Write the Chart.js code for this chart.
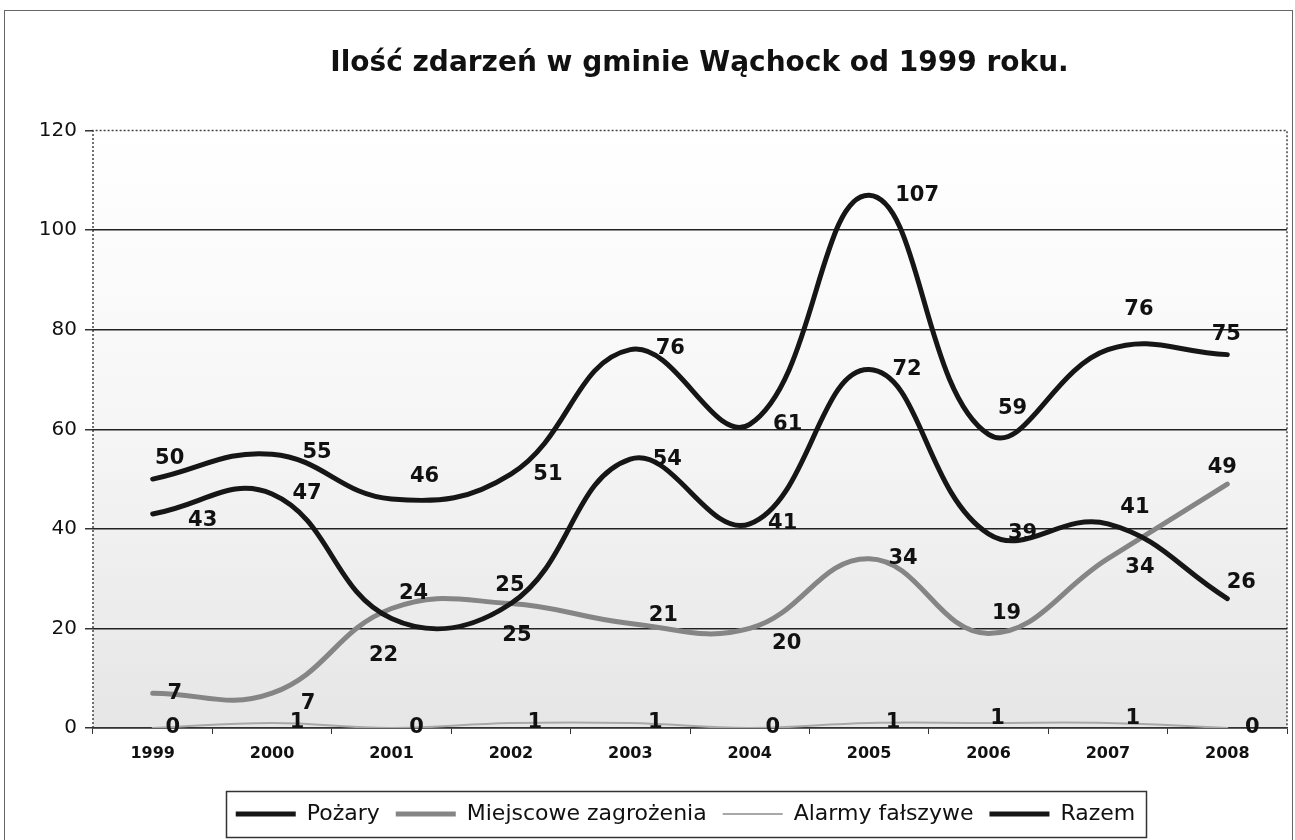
<!DOCTYPE html>
<html lang="pl">
<head>
<meta charset="utf-8">
<title>Ilość zdarzeń w gminie Wąchock od 1999 roku</title>
<script src="https://cdn.jsdelivr.net/npm/chart.js@4.4.1/dist/chart.umd.min.js"></script>
<style>
  html, body { margin: 0; padding: 0; background: #fff; }
  #wrap { width: 1295px; height: 840px; position: relative; }
</style>
</head>
<body>
<div id="wrap"><canvas id="chart"></canvas></div>
<script>
// dane
const years = ['1999', '2000', '2001', '2002', '2003', '2004', '2005', '2006', '2007', '2008'];
const pozary = [43, 47, 22, 25, 54, 41, 72, 39, 41, 26];
const miejscowe = [7, 7, 24, 25, 21, 20, 34, 19, 34, 49];
const alarmy = [0, 1, 0, 1, 1, 0, 1, 1, 1, 0];
const razem = [50, 55, 46, 51, 76, 61, 107, 59, 76, 75];
const yTicks = [0, 20, 40, 60, 80, 100, 120];

// przesunięcia etykiet danych (px) względem punktu
const labelOffsets = {
    'Pożary': [[50, 7], [35, 0], [-8, 37], [6, 32], [37, 0], [33, 0], [38, 0], [34, 0], [27, -16], [14, -16]],
    'Miejscowe zagrożenia': [[22, 0], [36, 10], [22, -15], [-1, -18], [33, -8], [37, 15], [34, 0], [18, -20], [32, 9], [-5, -17]],
    'Alarmy fałszywe': [[20, 0], [25, 0], [25, 0], [24, 0], [25, 0], [23, 0], [24, 0], [9, -4], [25, -4], [25, 0]],
    'Razem': [[17, -21], [45, -2], [33, -22], [37, 0], [40, -1], [38, 0], [48, 0], [24, -26], [31, -40], [-1, -20]]
};

const FONT = '"DejaVu Sans", Verdana, sans-serif';

// tło obszaru wykresu + kropkowana ramka + ramka całości
const plotBackground = {
    id: 'plotBackground',
    beforeDraw(chart) {
        const { ctx, chartArea: a } = chart;
        ctx.save();
        const g = ctx.createLinearGradient(0, a.top, 0, a.bottom);
        g.addColorStop(0, '#ffffff');
        g.addColorStop(0.45, '#f7f7f7');
        g.addColorStop(1, '#e6e6e6');
        ctx.fillStyle = g;
        ctx.fillRect(a.left, a.top, a.right - a.left, a.bottom - a.top);
        ctx.strokeStyle = '#444';
        ctx.lineWidth = 1.5;
        ctx.setLineDash([2, 2]);
        ctx.beginPath();
        ctx.moveTo(a.left, a.bottom);
        ctx.lineTo(a.left, a.top);
        ctx.lineTo(a.right, a.top);
        ctx.lineTo(a.right, a.bottom);
        ctx.stroke();
        ctx.setLineDash([]);
        // ramka całego obrazka
        ctx.strokeStyle = '#666';
        ctx.lineWidth = 1;
        ctx.strokeRect(4.5, 10.5, 1288, 840);
        ctx.restore();
    }
};

// przesunięcie tytułu i legendy nad środek obszaru wykresu
const shiftBoxes = {
    id: 'shiftBoxes',
    afterLayout(chart) {
        const t = chart.titleBlock;
        if (t) { t.left += 56; t.right += 56; }
        const l = chart.legend;
        if (l) { l.left += 42; l.right += 42; l.top -= 5; l.bottom -= 5; }
    },
    afterDraw(chart) {
        const boxes = chart.legend && chart.legend.legendHitBoxes;
        if (!boxes || !boxes.length) return;
        const { ctx } = chart;
        let x0 = Infinity, x1 = -Infinity, y0 = Infinity, y1 = -Infinity;
        boxes.forEach(b => {
            x0 = Math.min(x0, b.left); x1 = Math.max(x1, b.left + b.width);
            y0 = Math.min(y0, b.top); y1 = Math.max(y1, b.top + b.height);
        });
        ctx.save();
        ctx.strokeStyle = '#333';
        ctx.lineWidth = 1.5;
        ctx.strokeRect(Math.round(x0 - 10) + 0.5, Math.round(y0 - 12) + 0.5, Math.round(x1 - x0 + 20), Math.round(y1 - y0 + 24));
        ctx.restore();
    }
};

// etykiety wartości przy punktach
const valueLabels = {
    id: 'valueLabels',
    afterDatasetsDraw(chart) {
        const { ctx } = chart;
        ctx.save();
        ctx.font = 'bold 21px ' + FONT;
        ctx.fillStyle = '#111';
        ctx.textAlign = 'center';
        ctx.textBaseline = 'middle';
        chart.data.datasets.forEach((ds, di) => {
            const meta = chart.getDatasetMeta(di);
            const offs = labelOffsets[ds.label] || [];
            meta.data.forEach((pt, i) => {
                const o = offs[i] || [30, 0];
                ctx.fillText(String(ds.data[i]), pt.x + o[0], pt.y + o[1]);
            });
        });
        ctx.restore();
    }
};

const series = [
    { label: 'Pożary', data: pozary, color: '#161616', width: 5 },
    { label: 'Miejscowe zagrożenia', data: miejscowe, color: '#858585', width: 5 },
    { label: 'Alarmy fałszywe', data: alarmy, color: '#a8a8a8', width: 2 },
    { label: 'Razem', data: razem, color: '#161616', width: 5 }
];

new Chart(document.getElementById('chart'), {
    type: 'line',
    data: {
        labels: years,
        datasets: series.map(s => ({
            label: s.label,
            data: s.data,
            borderColor: s.color,
            backgroundColor: s.color,
            borderWidth: s.width,
            pointRadius: 0,
            pointHoverRadius: 0,
            pointStyle: 'line',
            tension: 0.42,
            fill: false,
            borderCapStyle: 'round'
        }))
    },
    options: {
        responsive: true,
        maintainAspectRatio: false,
        animation: false,
        layout: { padding: { left: 0, right: 8, top: 0, bottom: 0 } },
        plugins: {
            title: {
                display: true,
                text: 'Ilość zdarzeń w gminie Wąchock od 1999 roku.',
                color: '#111',
                font: { family: FONT, size: 28, weight: 'bold' },
                padding: { top: 47, bottom: 50 }
            },
            legend: {
                position: 'bottom',
                labels: {
                    usePointStyle: true,
                    pointStyleWidth: 60,
                    color: '#111',
                    padding: 16,
                    font: { family: FONT, size: 22 }
                }
            },
            tooltip: { enabled: false }
        },
        scales: {
            x: {
                offset: true,
                grid: { display: true, drawOnChartArea: false, offset: true, tickLength: 6, color: '#333', lineWidth: 1 },
                border: { color: '#333', width: 1.5 },
                ticks: { color: '#111', padding: 10, maxRotation: 0, font: { family: FONT, size: 16, weight: 'bold' } },
                afterFit(scale) { scale.height = 64; }
            },
            y: {
                min: 0,
                max: 120,
                afterBuildTicks(scale) { scale.ticks = yTicks.map(v => ({ value: v })); },
                afterFit(scale) { scale.width = 93; },
                grid: {
                    color: ctx => (ctx.tick && ctx.tick.value === 120) ? 'rgba(0,0,0,0)' : '#222',
                    lineWidth: 1.5,
                    tickLength: 8,
                    tickColor: '#333'
                },
                border: { display: false },
                ticks: { color: '#111', padding: 8, font: { family: FONT, size: 20 } }
            }
        }
    },
    plugins: [plotBackground, shiftBoxes, valueLabels]
});
</script>
</body>
</html>
